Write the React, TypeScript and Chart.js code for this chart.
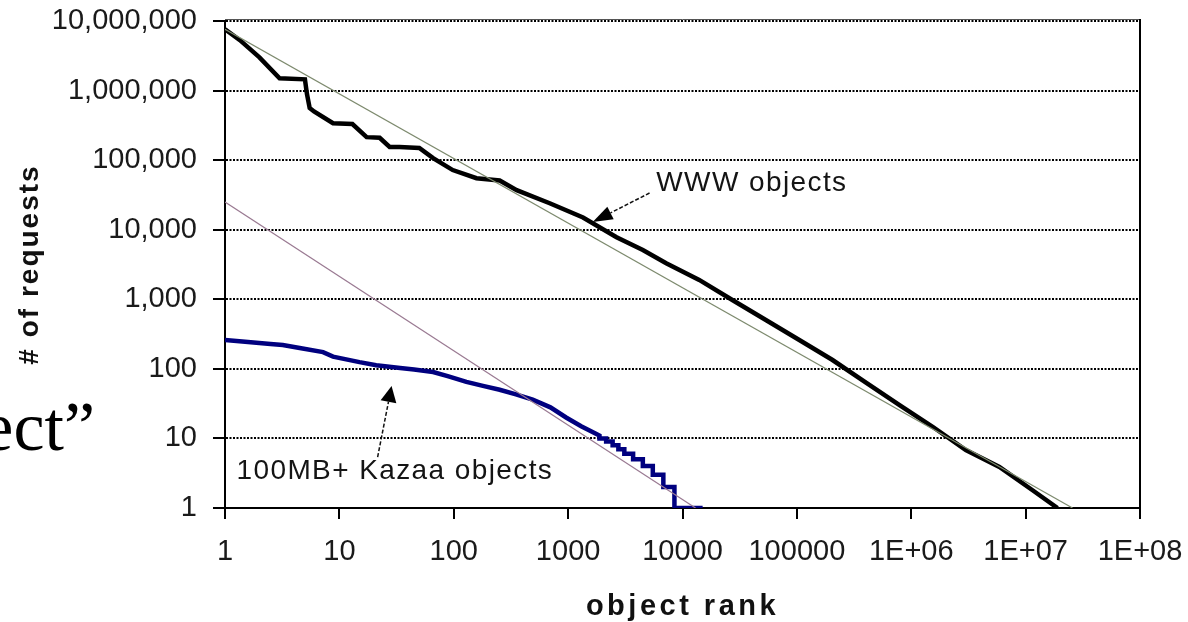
import React, { useEffect, useRef } from 'react';
import { Chart, registerables } from 'chart.js';

Chart.register(...registerables);

// ---- Data ----
const xTickValues = [1, 10, 100, 1000, 10000, 100000, 1e6, 1e7, 1e8];
const xTickLabels = ['1', '10', '100', '1000', '10000', '100000', '1E+06', '1E+07', '1E+08'];
const yTickValues = [1, 10, 100, 1000, 10000, 100000, 1e6, 1e7];
const yTickLabels = ['1', '10', '100', '1,000', '10,000', '100,000', '1,000,000', '10,000,000'];

const wwwRank = [1, 1.35, 2, 3, 5, 5.2, 5.5, 6, 8.8, 13, 17.3, 22.5, 27.5, 33.5, 50, 66, 98, 158, 252, 355, 690, 1350, 2650, 4500, 7200, 14000, 27500, 54000, 105000, 205000, 405000, 790000, 1550000, 3000000, 5900000, 11500000, 19000000];
const wwwRequests = [7600000, 5300000, 3000000, 1500000, 1450000, 900000, 560000, 500000, 340000, 330000, 214000, 210000, 155000, 155000, 150000, 107000, 72000, 55000, 51000, 37000, 24000, 15000, 7800, 5100, 3300, 1900, 970, 500, 260, 134, 63, 30, 14.6, 6.8, 3.9, 1.8, 1];

const kazaaRank = [1, 1.5, 2.5, 3.2, 4.5, 7.2, 8.8, 15, 21, 34, 45, 66, 90, 129, 180, 252, 350, 490, 700, 960, 1300, 1700, 1880, 1880, 2150, 2150, 2450, 2450, 2750, 2750, 3100, 3100, 3700, 3700, 4500, 4500, 5500, 5500, 6800, 6800, 8500, 8500, 15000];
const kazaaRequests = [260, 245, 228, 220, 200, 174, 150, 125, 113, 103, 98, 90, 78, 65, 57, 50, 43, 36, 28, 20, 15, 12, 11, 10, 10, 9, 9, 8, 8, 7, 7, 6, 6, 5, 5, 4, 4, 3, 3, 2, 2, 1, 1];

const wwwFitRank = [1, 25700000];
const wwwFitRequests = [7600000, 1];
const kazaaFitRank = [1, 13000];
const kazaaFitRequests = [25000, 1];

const xTitle = 'object rank';
const yTitle = '# of requests';
const wwwLabel = 'WWW objects';
const kazaaLabel = '100MB+ Kazaa objects';
const sideText = 'ect\u201D';

const FONT = "'Liberation Sans', Arial, Helvetica, sans-serif";

const toPoints = (xs: number[], ys: number[]) => xs.map((x, i) => ({ x, y: ys[i] }));

function drawArrow(ctx: CanvasRenderingContext2D, x1: number, y1: number, x2: number, y2: number, head: number, half: number) {
  const ang = Math.atan2(y2 - y1, x2 - x1);
  const bx = x2 - head * Math.cos(ang);
  const by = y2 - head * Math.sin(ang);
  ctx.strokeStyle = '#111';
  ctx.lineWidth = 1.5;
  ctx.setLineDash([4, 2]);
  ctx.beginPath();
  ctx.moveTo(x1, y1);
  ctx.lineTo(bx, by);
  ctx.stroke();
  ctx.setLineDash([]);
  ctx.fillStyle = '#000';
  ctx.beginPath();
  ctx.moveTo(x2, y2);
  ctx.lineTo(bx + half * Math.sin(ang), by - half * Math.cos(ang));
  ctx.lineTo(bx - half * Math.sin(ang), by + half * Math.cos(ang));
  ctx.closePath();
  ctx.fill();
}

const titleSpacing = {
  id: 'titleSpacing',
  beforeDraw(chart: any) {
    const spacing: Record<string, string> = { x: '3.5px', y: '2px' };
    for (const id of Object.keys(spacing)) {
      const s = chart.scales[id];
      if (!s || s._spacedTitle) continue;
      const orig = s.drawTitle;
      s.drawTitle = function (...args: any[]) {
        const ctx = this.ctx;
        ctx.save();
        ctx.letterSpacing = spacing[id];
        orig.apply(this, args);
        ctx.restore();
      };
      s._spacedTitle = true;
    }
  },
};

const annotations = {
  id: 'annotations',
  afterDraw(chart: any) {
    const { ctx, chartArea: a } = chart;
    const x = chart.scales.x;
    const y = chart.scales.y;
    ctx.save();
    // frame (top, right)
    ctx.setLineDash([]);
    ctx.lineWidth = 1;
    ctx.strokeStyle = '#555';
    ctx.beginPath();
    ctx.moveTo(a.left, a.top - 1.5);
    ctx.lineTo(a.right, a.top - 1.5);
    ctx.stroke();
    ctx.lineWidth = 2;
    ctx.strokeStyle = '#000';
    ctx.beginPath();
    ctx.moveTo(a.right, a.top - 2);
    ctx.lineTo(a.right, a.bottom);
    ctx.stroke();

    // labels
    ctx.fillStyle = '#141414';
    ctx.font = `28px ${FONT}`;
    ctx.letterSpacing = '1.4px';
    ctx.textBaseline = 'middle';
    ctx.textAlign = 'left';
    ctx.fillText(wwwLabel, x.getPixelForValue(5900), y.getPixelForValue(46500));
    ctx.fillText(kazaaLabel, x.getPixelForValue(1.26), y.getPixelForValue(3.4));
    ctx.letterSpacing = '0px';

    // arrows
    drawArrow(ctx, x.getPixelForValue(5150), y.getPixelForValue(33700), x.getPixelForValue(1640), y.getPixelForValue(12900), 20, 7);
    drawArrow(ctx, x.getPixelForValue(21.6), y.getPixelForValue(5.4), x.getPixelForValue(28.6), y.getPixelForValue(56.6), 16, 8);

    // slide text fragment at left
    ctx.font = `70px 'Liberation Serif', 'Times New Roman', serif`;
    ctx.textAlign = 'right';
    ctx.textBaseline = 'alphabetic';
    ctx.fillStyle = '#000';
    ctx.fillText(sideText, 95, 450);
    ctx.restore();
  },
};

export default function App() {
  const ref = useRef<HTMLCanvasElement | null>(null);

  useEffect(() => {
    if (!ref.current) return;
    Chart.defaults.font.family = FONT;
    const chart = new Chart(ref.current, {
      type: 'line',
      data: {
        datasets: [
          { label: 'WWW fit', data: toPoints(wwwFitRank, wwwFitRequests), borderColor: '#7d8a6e', borderWidth: 1.2, pointRadius: 0, fill: false },
          { label: 'Kazaa fit', data: toPoints(kazaaFitRank, kazaaFitRequests), borderColor: '#9a7a92', borderWidth: 1.2, pointRadius: 0, fill: false },
          { label: wwwLabel, data: toPoints(wwwRank, wwwRequests), borderColor: '#000000', borderWidth: 4.5, pointRadius: 0, fill: false },
          { label: kazaaLabel, data: toPoints(kazaaRank, kazaaRequests), borderColor: '#00007f', borderWidth: 4.5, pointRadius: 0, fill: false },
        ],
      },
      options: {
        animation: false,
        responsive: false,
        layout: { padding: { left: 0, right: 48, top: 21, bottom: 0 } },
        plugins: { legend: { display: false }, tooltip: { enabled: false } },
        scales: {
          x: {
            type: 'logarithmic',
            min: 1,
            max: 1e8,
            afterBuildTicks: (s: any) => { s.ticks = xTickValues.map((v) => ({ value: v })); },
            afterFit: (s: any) => { s.height = 114; s.paddingLeft = 0; s.paddingRight = 0; },
            ticks: {
              autoSkip: false, maxRotation: 0, minRotation: 0, padding: 16, color: '#1a1a1a',
              font: { size: 29 },
              callback: (_v: any, i: number) => xTickLabels[i] ?? '',
            },
            grid: { drawOnChartArea: false, drawTicks: true, tickLength: 11, tickWidth: 2, tickColor: '#000', color: '#000', lineWidth: 2 },
            border: { display: true, color: '#000', width: 2 },
            title: { display: true, text: xTitle, color: '#111', font: { size: 29, weight: 'bold' }, padding: { top: 0, bottom: -2 } },
          },
          y: {
            type: 'logarithmic',
            min: 1,
            max: 1e7,
            afterBuildTicks: (s: any) => { s.ticks = yTickValues.map((v) => ({ value: v })); },
            afterFit: (s: any) => { s.width = 225; s.paddingTop = 0; s.paddingBottom = 0; },
            ticks: {
              autoSkip: false, padding: 16, color: '#1a1a1a',
              font: { size: 29 },
              callback: (_v: any, i: number) => yTickLabels[i] ?? '',
            },
            grid: { drawOnChartArea: true, drawTicks: true, tickLength: 12, tickWidth: 2, tickColor: '#000', color: '#000', lineWidth: 2 },
            border: { display: true, color: '#000', width: 2, dash: [2, 1.5] },
            title: { display: true, text: yTitle, color: '#111', font: { size: 28, weight: 'bold' }, padding: { top: 13, bottom: 0 } },
          },
        },
      } as any,
      plugins: [titleSpacing, annotations],
    });
    return () => chart.destroy();
  }, []);

  return (
    <div style={{ position: 'fixed', left: 0, top: 0, width: 1188, height: 622, background: '#fff' }}>
      <canvas ref={ref} width={1188} height={622} style={{ display: 'block', width: 1188, height: 622 }} />
    </div>
  );
}
